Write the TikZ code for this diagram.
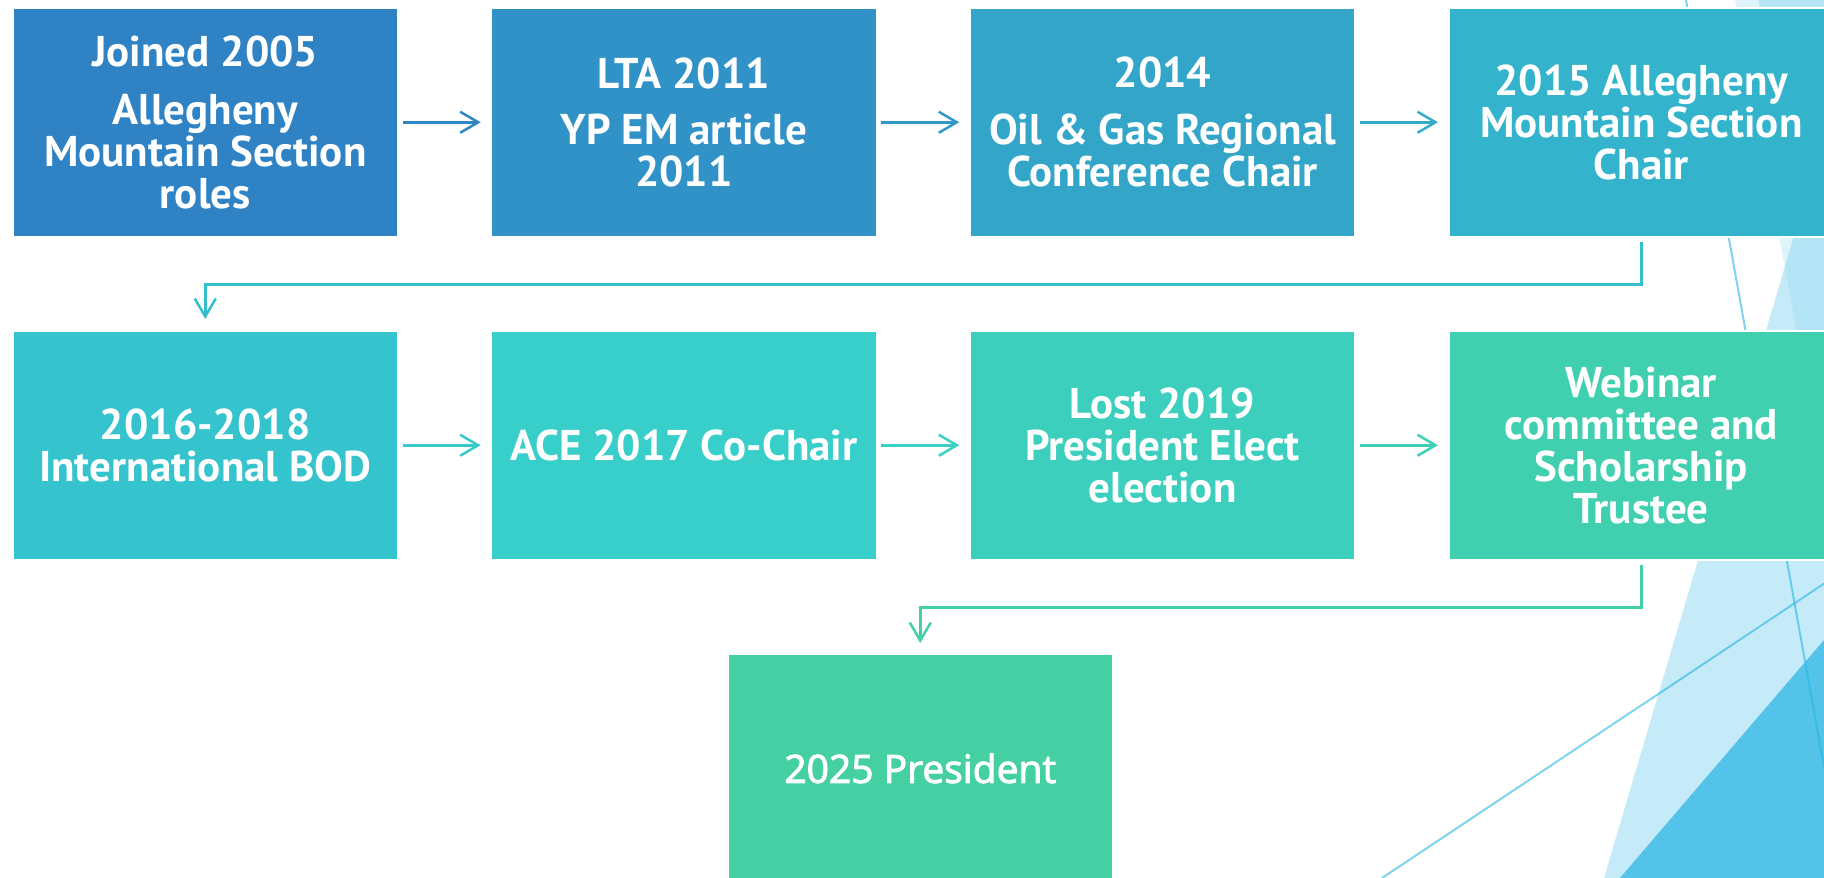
\documentclass[tikz,border=0pt]{standalone}
\usepackage{fontspec}
\setmainfont{PT Sans}
\newfontfamily\presfont[FakeBold=2.5]{Open Sans}
\usetikzlibrary{arrows.meta}
\definecolor{cA}{HTML}{2F83C4}
\definecolor{cB}{HTML}{3092C6}
\definecolor{cC}{HTML}{32A5C8}
\definecolor{cD}{HTML}{33B4CC}
\definecolor{cE}{HTML}{35C3CE}
\definecolor{cF}{HTML}{38CECA}
\definecolor{cG}{HTML}{3CCFBD}
\definecolor{cH}{HTML}{40D0AF}
\definecolor{cI}{HTML}{44D0A2}
\definecolor{aA}{HTML}{2F86C4}
\definecolor{aB}{HTML}{3198C7}
\definecolor{aC}{HTML}{32ACCA}
\definecolor{aD}{HTML}{34BFCC}
\definecolor{aE}{HTML}{36CACD}
\definecolor{aF}{HTML}{3AD0C3}
\definecolor{aG}{HTML}{3ED0B5}
\definecolor{aH}{HTML}{42D0A8}
\definecolor{decoL}{HTML}{DFF3FA}
\definecolor{decoM}{HTML}{C5EBF8}
\definecolor{decoO}{HTML}{B3E5F6}
\definecolor{decoF}{HTML}{53C3EA}
\definecolor{decoLine}{HTML}{29B6E6}
\begin{document}
\begin{tikzpicture}[x=1pt,y=-1pt,
  stepbox/.style={rectangle, anchor=north west, minimum width=385pt, minimum height=229pt,
    inner sep=0pt, draw=white, line width=1.5pt, text=white, align=center,
    font=\bfseries\fontsize{43pt}{42pt}\selectfont},
  presbox/.style={stepbox, font=\presfont\fontsize{39pt}{42pt}\selectfont},
  flow/.style={line width=2.5pt, -{Straight Barb[length=18pt,width=21pt]},
    shorten <=4pt, shorten >=10pt},
  decoline/.style={draw=decoLine, opacity=0.6, line width=2pt}
]
\useasboundingbox (0,0) rectangle (1824,878);
\clip (0,0) rectangle (1824,878);
% background facets
\fill[decoL] (1735,0) -- (1830,0) -- (1830,509) -- cycle;
\fill[decoM] (1759,0) -- (1793,239) -- (1604,878) -- (1830,878) -- (1830,0) -- cycle;
\begin{scope}
  \clip (1735,0) -- (1830,0) -- (1830,509) -- cycle;
  \fill[decoO] (1759,0) -- (1793,239) -- (1604,878) -- (1830,878) -- (1830,0) -- cycle;
\end{scope}
\fill[decoF] (1620,878) -- (1830,633) -- (1830,878) -- cycle;
\draw[decoline] (1686,0) -- (1844,878);
\draw[decoline] (1382,878) -- (1840,573);
% boxes
\node[stepbox, fill=cA] (b1) at (12,7) {Joined 2005\\[16pt]Allegheny\\Mountain Section\\roles};
\node[stepbox, fill=cB] (b2) at (490.7,7) {LTA 2011\\[14pt]YP EM article\\2011};
\node[stepbox, fill=cC] (b3) at (969.3,7) {2014\\[15pt]Oil \& Gas Regional\\Conference Chair};
\node[stepbox, fill=cD] (b4) at (1448,7) {2015 Allegheny\\Mountain Section\\Chair};
\node[stepbox, fill=cE] (b5) at (12,330) {2016-2018\\International BOD};
\node[stepbox, fill=cF] (b6) at (490.7,330) {ACE 2017 Co-Chair};
\node[stepbox, fill=cG] (b7) at (969.3,330) {Lost 2019\\President Elect\\election};
\node[stepbox, fill=cH] (b8) at (1448,330) {Webinar\\committee and\\Scholarship\\Trustee};
\node[presbox, fill=cI] (b9) at (727,653) {2025 President};
% connectors
\draw[flow, draw=aA] (b1.east) -- (b2.west);
\draw[flow, draw=aB] (b2.east) -- (b3.west);
\draw[flow, draw=aC] (b3.east) -- (b4.west);
\draw[flow, draw=aD, shorten >=11pt] (b4.south) -- ++(0,47) -| (b5.north);
\draw[flow, draw=aE] (b5.east) -- (b6.west);
\draw[flow, draw=aF] (b6.east) -- (b7.west);
\draw[flow, draw=aG] (b7.east) -- (b8.west);
\draw[flow, draw=aH, shorten >=10pt] (b8.south) -- ++(0,47) -| (b9.north);
\end{tikzpicture}
\end{document}
